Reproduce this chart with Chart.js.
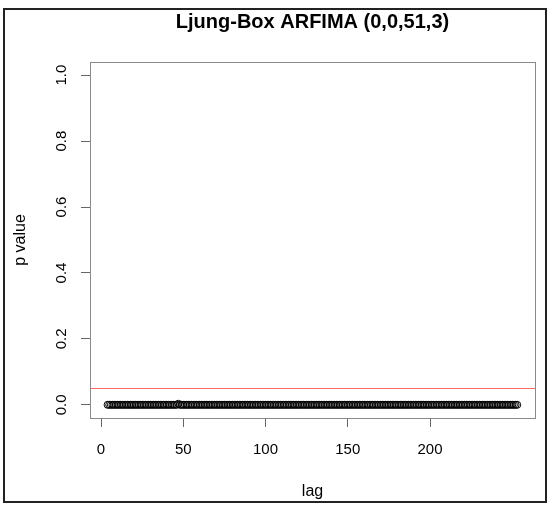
<!DOCTYPE html>
<html>
<head>
<meta charset="utf-8">
<script src="https://cdn.jsdelivr.net/npm/chart.js@4.4.1/dist/chart.umd.min.js"></script>
<style>
  html, body { margin: 0; padding: 0; background: #fff; }
  #wrap { width: 549px; height: 505px; position: relative; }
</style>
</head>
<body>
<div id="wrap"><canvas id="lbChart" width="549" height="505"></canvas></div>
<script>
// Ljung-Box p values by lag (all essentially zero)
const lagStart = 4;
const pValues = [
  0, 0, 0, 0, 0, 0, 0, 0, 0, 0, 0, 0, 0, 0, 0, 0, 0, 0, 0, 0, 0, 0, 0, 0, 0,
  0, 0, 0, 0, 0, 0, 0, 0, 0, 0, 0, 0, 0, 0, 0, 0, 0, 0, 0.003, 0, 0, 0, 0, 0, 0,
  0, 0, 0, 0, 0, 0, 0, 0, 0, 0, 0, 0, 0, 0, 0, 0, 0, 0, 0, 0, 0, 0, 0, 0, 0,
  0, 0, 0, 0, 0, 0, 0, 0, 0, 0, 0, 0, 0, 0, 0, 0, 0, 0, 0, 0, 0, 0, 0, 0, 0,
  0, 0, 0, 0, 0, 0, 0, 0, 0, 0, 0, 0, 0, 0, 0, 0, 0, 0, 0, 0, 0, 0, 0, 0, 0,
  0, 0, 0, 0, 0, 0, 0, 0, 0, 0, 0, 0, 0, 0, 0, 0, 0, 0, 0, 0, 0, 0, 0, 0, 0,
  0, 0, 0, 0, 0, 0, 0, 0, 0, 0, 0, 0, 0, 0, 0, 0, 0, 0, 0, 0, 0, 0, 0, 0, 0,
  0, 0, 0, 0, 0, 0, 0, 0, 0, 0, 0, 0, 0, 0, 0, 0, 0, 0, 0, 0, 0, 0, 0, 0, 0,
  0, 0, 0, 0, 0, 0, 0, 0, 0, 0, 0, 0, 0, 0, 0, 0, 0, 0, 0, 0, 0, 0, 0, 0, 0,
  0, 0, 0, 0, 0, 0, 0, 0, 0, 0, 0, 0, 0, 0, 0, 0, 0, 0, 0, 0, 0, 0, 0, 0, 0
];
const lags = pValues.map((_, i) => lagStart + i);
const xTicks = [0, 50, 100, 150, 200];
const yTicks = [0, 0.2, 0.4, 0.6, 0.8, 1.0];
const sigLevel = 0.05;
const chartTitle = 'Ljung-Box ARFIMA (0,0,51,3)';

const FONT = '"Liberation Sans", Arial, sans-serif';

const rPlot = {
  id: 'rPlot',
  beforeDraw(chart) {
    const ctx = chart.ctx;
    ctx.save();
    ctx.fillStyle = '#fff';
    ctx.fillRect(0, 0, chart.width, chart.height);
    ctx.restore();
  },
  beforeDatasetsDraw(chart) {
    const { ctx, chartArea: a, scales: { y } } = chart;
    const yy = Math.round(y.getPixelForValue(sigLevel)) + 0.5;
    ctx.save();
    ctx.strokeStyle = 'rgba(255,0,0,0.6)';
    ctx.lineWidth = 1;
    ctx.beginPath();
    ctx.moveTo(a.left, yy);
    ctx.lineTo(a.right, yy);
    ctx.stroke();
    ctx.restore();
  },
  afterDraw(chart) {
    const { ctx, chartArea: a, scales: { y } } = chart;
    ctx.save();
    // plot box
    ctx.strokeStyle = '#8a8a8a';
    ctx.lineWidth = 1;
    ctx.strokeRect(Math.round(a.left) + 0.5, Math.round(a.top) + 0.5,
      Math.round(a.right - a.left), Math.round(a.bottom - a.top));
    // rotated y tick labels
    ctx.fillStyle = '#000';
    ctx.font = '15px ' + FONT;
    ctx.textAlign = 'center';
    ctx.textBaseline = 'middle';
    yTicks.forEach(v => {
      ctx.save();
      ctx.translate(62, y.getPixelForValue(v));
      ctx.rotate(-Math.PI / 2);
      ctx.fillText(v.toFixed(1), 0, 0);
      ctx.restore();
    });
    // title
    ctx.font = 'bold 20px ' + FONT;
    ctx.fillText(chartTitle, (a.left + a.right) / 2, 22);
    // outer frame
    ctx.strokeStyle = '#222';
    ctx.lineWidth = 2;
    ctx.strokeRect(4, 9, 542, 493);
    ctx.restore();
  }
};

new Chart(document.getElementById('lbChart').getContext('2d'), {
  type: 'scatter',
  data: {
    datasets: [{
      label: 'p value',
      data: lags.map((l, i) => ({ x: l, y: pValues[i] })),
      pointStyle: 'circle',
      pointRadius: 3.5,
      borderColor: '#000',
      backgroundColor: 'rgba(0,0,0,0)',
      borderWidth: 1
    }]
  },
  plugins: [rPlot],
  options: {
    responsive: false,
    animation: false,
    layout: { padding: { left: 7, right: 14, top: 62, bottom: 0 } },
    plugins: { legend: { display: false }, tooltip: { enabled: false }, title: { display: false } },
    scales: {
      x: {
        type: 'linear',
        min: -6.7,
        max: 263.8,
        afterBuildTicks: s => { s.ticks = xTicks.map(v => ({ value: v })); },
        afterFit: s => { s.height = 87; },
        border: { display: false },
        grid: { drawOnChartArea: false, drawTicks: true, tickLength: 9, color: '#666' },
        ticks: { color: '#000', font: { size: 15, family: FONT }, padding: 14, maxRotation: 0 },
        title: { display: true, text: 'lag', color: '#000', font: { size: 16, family: FONT }, padding: { top: 12, bottom: 4 } }
      },
      y: {
        type: 'linear',
        min: -0.04,
        max: 1.04,
        afterBuildTicks: s => { s.ticks = yTicks.map(v => ({ value: v })); },
        afterFit: s => { s.width = 83; },
        border: { display: false },
        grid: { drawOnChartArea: false, drawTicks: true, tickLength: 9, color: '#666' },
        ticks: { display: false },
        title: { display: true, text: 'p value', color: '#000', font: { size: 16, family: FONT }, padding: { top: 4, bottom: 4 } }
      }
    }
  }
});
</script>
</body>
</html>
